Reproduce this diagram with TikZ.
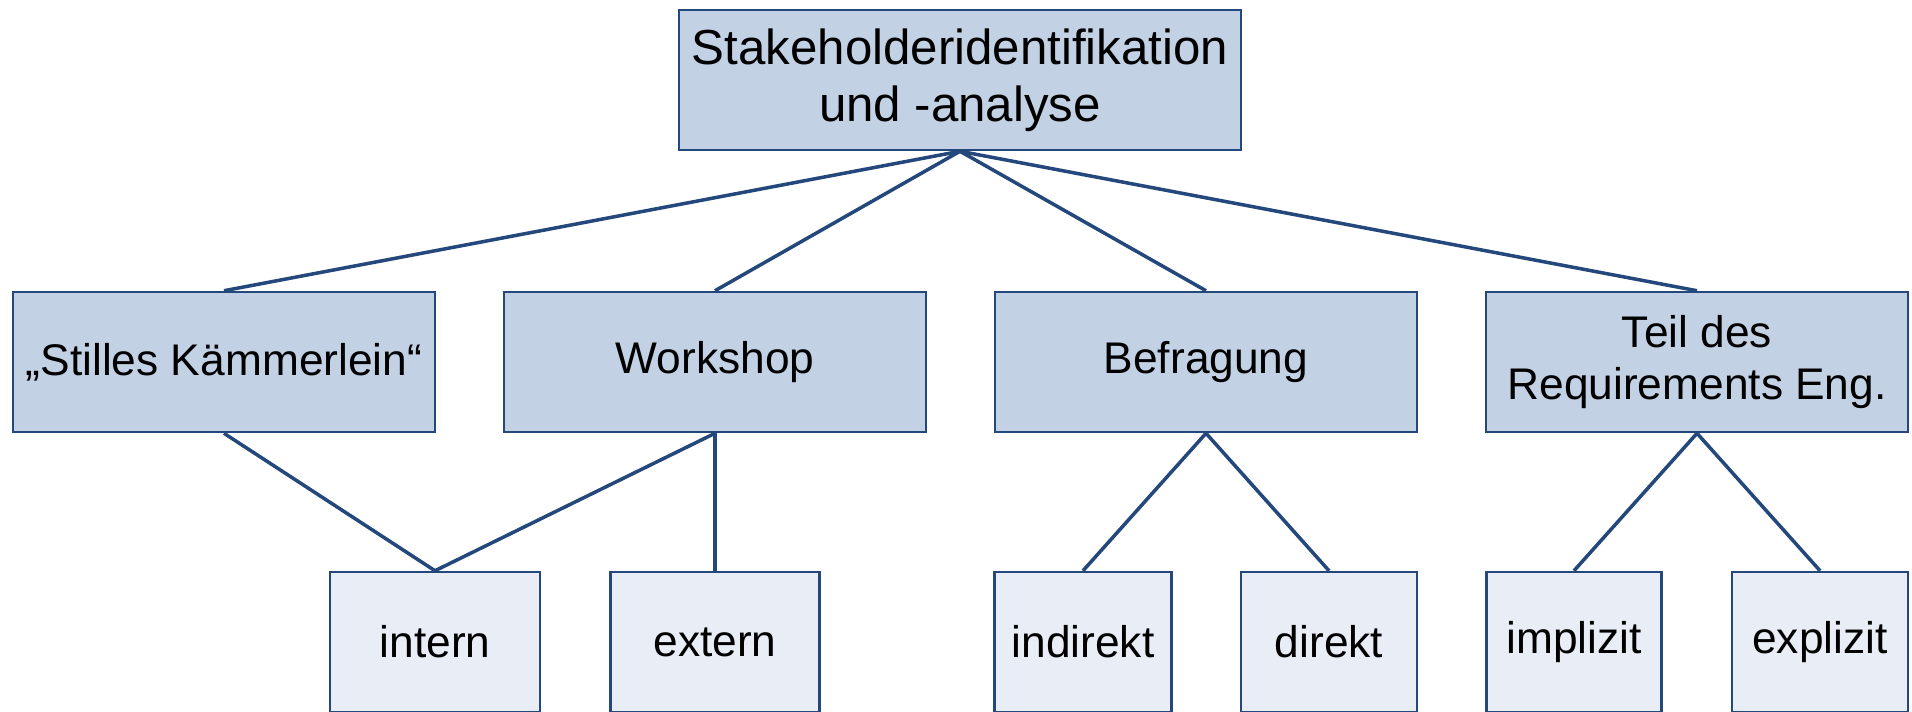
\documentclass[tikz,border=0pt]{standalone}
\usepackage{fontspec}
\setmainfont{Liberation Sans}
\usetikzlibrary{positioning}
\definecolor{boxline}{RGB}{37,72,124}
\definecolor{darkfill}{RGB}{194,209,228}
\definecolor{lightfill}{RGB}{233,238,246}

\begin{document}
\begin{tikzpicture}[x=0.01cm, y=-0.01cm,
  every node/.style={font=\fontsize{12.6}{15}\selectfont},
  topbox/.style={draw=boxline, fill=darkfill, line width=0.7pt, align=center,
    minimum width=4.22cm, minimum height=1.4cm, inner sep=0pt},
  subbox/.style={draw=boxline, fill=lightfill, line width=0.7pt, align=center,
    minimum height=1.4cm, inner sep=0pt},
  link/.style={draw=boxline, line width=1pt}]
\useasboundingbox (0,0) rectangle (1912,711);
% top level
\node[topbox, minimum width=5.62cm, font=\fontsize{14}{16.1}\selectfont] (root) at (960,80)
  {Stakeholderidentifikation\\und -analyse};
% second level
\node[topbox] (kammer) at (224,362) {„Stilles Kämmerlein“};
\node[topbox] (workshop) at (715,362) {Workshop};
\node[topbox] (befragung) at (1206,362) {Befragung};
\node[topbox] (teil) at (1697,362) {Teil des\\Requirements Eng.};
% third level
\foreach \name/\x/\w in {intern/435/2.10, extern/715/2.09, indirekt/1083/1.77,
  direkt/1329/1.76, implizit/1574/1.75, explizit/1820/1.76}
  \node[subbox, minimum width=\w cm] (\name) at (\x,642) {\name};
% connectors
\foreach \b in {kammer,workshop,befragung,teil}
  \draw[link] (root.south) -- (\b.north);
\draw[link] (kammer.south) -- (intern.north);
\draw[link] (workshop.south) -- (intern.north);
\draw[link] (workshop.south) -- (extern.north);
\draw[link] (befragung.south) -- (indirekt.north);
\draw[link] (befragung.south) -- (direkt.north);
\draw[link] (teil.south) -- (implizit.north);
\draw[link] (teil.south) -- (explizit.north);
\end{tikzpicture}
\end{document}
